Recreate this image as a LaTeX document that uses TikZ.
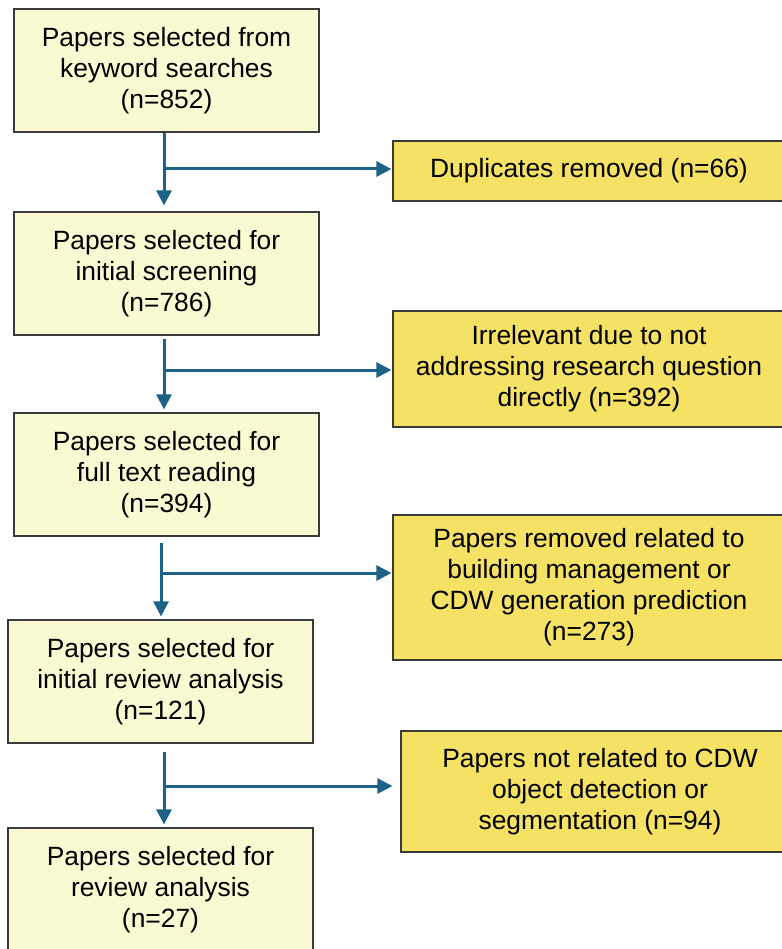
\documentclass[tikz,border=0pt]{standalone}
\usepackage{fontspec}
\setmainfont{Liberation Sans}
\usetikzlibrary{arrows.meta}
\definecolor{lightbox}{HTML}{FAFAD2}
\definecolor{darkbox}{HTML}{F5E264}
\definecolor{arrowblue}{HTML}{1D6287}
\definecolor{boxline}{HTML}{3A3A3A}
\begin{document}
\begin{tikzpicture}[x=1pt,y=-1pt,
  box/.style={draw=boxline, line width=1.2pt, align=center, font=\fontsize{26.4}{31}\selectfont, inner sep=0pt},
  lbox/.style={box, fill=lightbox, minimum width=305pt, minimum height=123pt},
  rbox/.style={box, fill=darkbox},
  arr/.style={draw=arrowblue, line width=3pt, -{Triangle[length=15pt,width=15pt]}}]
\useasboundingbox (0,0) rectangle (781,949);
\fill[white] (0,0) rectangle (781,949);
% left column
\node[lbox] (L1) at (166.5,70.5) {Papers selected from\\keyword searches\\(n=852)};
\node[lbox] (L2) at (166.5,273.5) {Papers selected for\\initial screening\\(n=786)};
\node[lbox] (L3) at (166.5,474.5) {Papers selected for\\full text reading\\(n=394)};
\node[lbox] (L4) at (160.5,681.5) {Papers selected for\\initial review analysis\\(n=121)};
\node[lbox] (L5) at (160.5,889.5) {Papers selected for\\review analysis\\(n=27)};
% right column
\node[rbox, minimum width=392pt, minimum height=60pt] (R1) at (589,171) {Duplicates removed (n=66)};
\node[rbox, minimum width=392pt, minimum height=116pt] (R2) at (589,369) {Irrelevant due to not\\addressing research question\\directly (n=392)};
\node[rbox, minimum width=392pt, minimum height=145pt] (R3) at (589,587.5) {Papers removed related to\\building management or\\CDW generation prediction\\(n=273)};
\node[rbox, minimum width=398pt, minimum height=121pt] (R4) at (600,791.5) {Papers not related to CDW\\object detection or\\segmentation (n=94)};
% junctions
\coordinate (j1) at (164,169);
\coordinate (j2) at (164,370);
\coordinate (j3) at (161,573);
\coordinate (j4) at (164,786);
% arrows
\draw[arr, shorten >=6pt] (L1.south -| j1) -- (L2.north -| j1);
\draw[arr, shorten >=1pt] (j1) -- (R1.west |- j1);
\draw[arr, shorten <=3pt, shorten >=3pt] (L2.south -| j2) -- (L3.north -| j2);
\draw[arr, shorten >=1pt] (j2) -- (R2.west |- j2);
\draw[arr, shorten <=6pt, shorten >=3pt] (L3.south -| j3) -- (L4.north -| j3);
\draw[arr, shorten >=1pt] (j3) -- (R3.west |- j3);
\draw[arr, shorten <=8pt, shorten >=3pt] (L4.south -| j4) -- (L5.north -| j4);
\draw[arr, shorten >=8pt] (j4) -- (R4.west |- j4);
\end{tikzpicture}
\end{document}
